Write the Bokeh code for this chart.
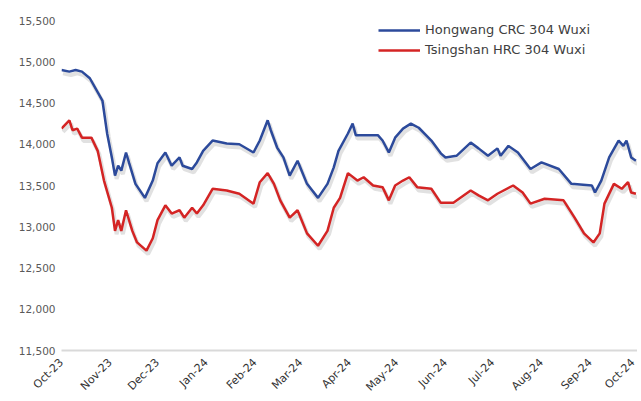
import pandas as pd
from bokeh.plotting import figure
from bokeh.models import ColumnDataSource, FixedTicker, NumeralTickFormatter, Legend, LegendItem, Range1d
from bokeh.embed import file_html
from bokeh.resources import INLINE

hw_dates = ["2023-10-01","2023-10-06","2023-10-10","2023-10-14","2023-10-19","2023-10-27","2023-10-30",
            "2023-11-02","2023-11-04","2023-11-06","2023-11-08","2023-11-11","2023-11-13","2023-11-17",
            "2023-11-23","2023-11-28","2023-12-01","2023-12-06","2023-12-10","2023-12-15","2023-12-17",
            "2023-12-23","2023-12-26","2023-12-30","2024-01-05","2024-01-14","2024-01-22","2024-01-31",
            "2024-02-04","2024-02-09","2024-02-11","2024-02-15","2024-02-19","2024-02-23","2024-02-28",
            "2024-03-05","2024-03-12","2024-03-18","2024-03-22","2024-03-25","2024-03-31","2024-04-03",
            "2024-04-05","2024-04-19","2024-04-22","2024-04-26","2024-04-30","2024-05-05","2024-05-10",
            "2024-05-15","2024-05-23","2024-05-29","2024-06-01","2024-06-08","2024-06-17","2024-06-22",
            "2024-06-28","2024-07-04","2024-07-06","2024-07-11","2024-07-17","2024-07-25","2024-08-01",
            "2024-08-12","2024-08-20","2024-09-02","2024-09-04","2024-09-08","2024-09-13","2024-09-19",
            "2024-09-22","2024-09-24","2024-09-27","2024-09-30"]
hw_values = [14900,14880,14900,14880,14800,14530,14130,
             13840,13620,13740,13680,13900,13770,13520,
             13350,13560,13770,13900,13740,13840,13740,
             13700,13780,13920,14045,14010,14000,13900,
             14045,14290,14170,13960,13840,13620,13800,
             13520,13350,13520,13720,13920,14130,14250,
             14110,14110,14045,13900,14080,14190,14250,
             14200,14045,13890,13840,13860,14020,13950,
             13860,13950,13860,13980,13900,13700,13780,
             13700,13520,13500,13415,13560,13840,14045,
             13980,14045,13840,13800]

ts_dates = ["2023-10-01","2023-10-06","2023-10-08","2023-10-11","2023-10-14","2023-10-20","2023-10-24",
            "2023-10-28","2023-11-02","2023-11-04","2023-11-06","2023-11-08","2023-11-11","2023-11-15",
            "2023-11-18","2023-11-24","2023-11-28","2023-12-01","2023-12-06","2023-12-10","2023-12-15",
            "2023-12-18","2023-12-23","2023-12-26","2023-12-30","2024-01-05","2024-01-14","2024-01-22",
            "2024-01-31","2024-02-04","2024-02-09","2024-02-13","2024-02-17","2024-02-23","2024-02-28",
            "2024-03-05","2024-03-12","2024-03-18","2024-03-22","2024-03-26","2024-03-31","2024-04-06",
            "2024-04-10","2024-04-16","2024-04-22","2024-04-26","2024-04-30","2024-05-05","2024-05-09",
            "2024-05-14","2024-05-23","2024-05-29","2024-06-06","2024-06-17","2024-06-22","2024-06-28",
            "2024-07-04","2024-07-14","2024-07-20","2024-07-25","2024-08-03","2024-08-15","2024-08-22",
            "2024-08-28","2024-09-03","2024-09-07","2024-09-10","2024-09-16","2024-09-21","2024-09-25",
            "2024-09-27","2024-09-30"]
ts_values = [14190,14290,14170,14190,14080,14080,13920,
             13560,13230,12950,13080,12950,13200,12950,
             12810,12710,12860,13080,13260,13160,13200,
             13110,13230,13160,13260,13460,13440,13400,
             13280,13540,13650,13520,13320,13110,13200,
             12920,12770,12950,13230,13350,13650,13560,
             13600,13500,13480,13320,13500,13560,13600,
             13480,13460,13290,13290,13440,13380,13320,
             13400,13500,13415,13280,13340,13320,13110,
             12920,12810,12920,13280,13520,13460,13540,
             13415,13400]

month_ticks = ["2023-10-01","2023-11-01","2023-12-01","2024-01-01","2024-02-01","2024-03-01","2024-04-01",
               "2024-05-01","2024-06-01","2024-07-01","2024-08-01","2024-09-01","2024-10-01"]
month_labels = ["Oct-23","Nov-23","Dec-23","Jan-24","Feb-24","Mar-24","Apr-24",
                "May-24","Jun-24","Jul-24","Aug-24","Sep-24","Oct-24"]
y_ticks = [11500,12000,12500,13000,13500,14000,14500,15000,15500]

def to_ms(ds):
    return [int(pd.Timestamp(d).value // 10**6) for d in ds]

hw_x = pd.to_datetime(hw_dates)
ts_x = pd.to_datetime(ts_dates)
tick_ms = to_ms(month_ticks)

p = figure(width=637, height=401, x_axis_type="datetime", output_backend="svg",
           toolbar_location=None, min_border_left=61, min_border_right=0,
           min_border_top=20, min_border_bottom=40,
           x_range=Range1d(pd.Timestamp(month_ticks[0]), pd.Timestamp(month_ticks[-1])),
           y_range=Range1d(11500, 15500))
p.outline_line_color = None
p.grid.grid_line_color = None
p.background_fill_color = "white"

shadow_off = pd.Timedelta(days=1)
hw_src = ColumnDataSource(dict(x=hw_x, y=hw_values))
ts_src = ColumnDataSource(dict(x=ts_x, y=ts_values))
hw_sh = ColumnDataSource(dict(x=hw_x + shadow_off, y=[v - 40 for v in hw_values]))
ts_sh = ColumnDataSource(dict(x=ts_x + shadow_off, y=[v - 40 for v in ts_values]))

p.line("x", "y", source=hw_sh, line_color="#9a9a9a", line_width=4, line_alpha=0.3)
p.line("x", "y", source=ts_sh, line_color="#9a9a9a", line_width=4, line_alpha=0.3)
r1 = p.line("x", "y", source=hw_src, line_color="#2c4a9b", line_width=2.5)
r2 = p.line("x", "y", source=ts_src, line_color="#d42424", line_width=2.5)

font = "DejaVu Sans"
p.xaxis.ticker = FixedTicker(ticks=tick_ms)
p.xaxis.major_label_overrides = {t: l for t, l in zip(tick_ms, month_labels)}
p.xaxis.major_label_orientation = 0.785
p.xaxis.axis_line_color = "#d9d9d9"
p.xaxis.axis_line_width = 2
p.xaxis.major_tick_line_color = None
p.xaxis.minor_tick_line_color = None
p.xaxis.major_label_text_font = font
p.xaxis.major_label_text_font_size = "11px"
p.xaxis.major_label_text_color = "#333333"
p.xaxis.major_label_standoff = 4

p.yaxis.ticker = FixedTicker(ticks=y_ticks)
p.yaxis.formatter = NumeralTickFormatter(format="0,0")
p.yaxis.axis_line_color = None
p.yaxis.major_tick_line_color = None
p.yaxis.minor_tick_line_color = None
p.yaxis.major_label_text_font = font
p.yaxis.major_label_text_font_size = "10.5px"
p.yaxis.major_label_text_color = "#595959"
p.yaxis.major_label_standoff = 0

legend = Legend(items=[LegendItem(label="Hongwang CRC 304 Wuxi", renderers=[r1]),
                       LegendItem(label="Tsingshan HRC 304 Wuxi", renderers=[r2])],
                location=(317, 293))
legend.border_line_color = None
legend.background_fill_alpha = 0
legend.label_text_font = font
legend.label_text_font_size = "13px"
legend.label_text_color = "#404040"
legend.glyph_width = 42
legend.glyph_height = 14
legend.label_height = 14
legend.spacing = 5
legend.padding = 0
legend.margin = 0
p.add_layout(legend)

open("out.html", "w").write(file_html(p, INLINE))
